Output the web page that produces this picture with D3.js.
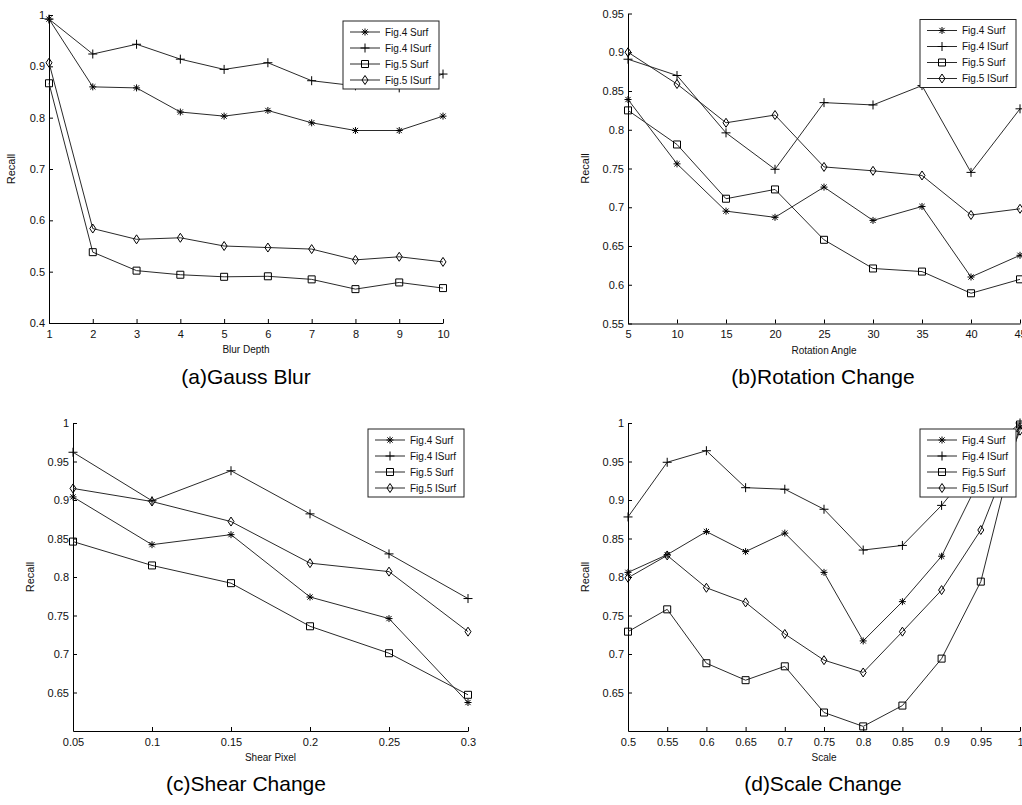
<!DOCTYPE html>
<html lang="en">
<head>
    <meta charset="UTF-8">
    <style>
        body {
            margin: 0;
            background: #fff;
            font-family: "Liberation Sans", Arial, sans-serif;
        }
        .series path.line {
            fill: none;
            stroke: #2a2a2a;
            stroke-width: 1;
        }
        .marker {
            fill: none;
            stroke: #000;
            stroke-width: 1;
        }
        .axis path, .axis line {
            stroke: #000;
        }
    </style>
    <script src="https://cdnjs.cloudflare.com/ajax/libs/d3/7.8.5/d3.min.js"></script>
</head>
<body>
<svg width="1022" height="805"></svg>

<script>
    var seriesNames = ["Fig.4 Surf", "Fig.4 ISurf", "Fig.5 Surf", "Fig.5 ISurf"];
    var markerTypes = ["asterisk", "plus", "square", "diamond"];

    // (a) Gauss blur
    var blurDepth = [1, 2, 3, 4, 5, 6, 7, 8, 9, 10];
    var blurFig4Surf = [0.992, 0.860, 0.858, 0.811, 0.803, 0.814, 0.790, 0.775, 0.775, 0.803];
    var blurFig4ISurf = [0.992, 0.924, 0.943, 0.914, 0.894, 0.907, 0.872, 0.862, 0.858, 0.885];
    var blurFig5Surf = [0.867, 0.538, 0.502, 0.494, 0.490, 0.491, 0.485, 0.466, 0.479, 0.468];
    var blurFig5ISurf = [0.907, 0.584, 0.563, 0.566, 0.550, 0.547, 0.544, 0.523, 0.529, 0.519];
    var blurYTicks = [0.4, 0.5, 0.6, 0.7, 0.8, 0.9, 1];

    // (b) rotation change
    var rotAngle = [5, 10, 15, 20, 25, 30, 35, 40, 45];
    var rotFig4Surf = [0.839, 0.756, 0.695, 0.687, 0.726, 0.683, 0.701, 0.610, 0.638];
    var rotFig4ISurf = [0.891, 0.870, 0.796, 0.749, 0.835, 0.832, 0.857, 0.745, 0.827];
    var rotFig5Surf = [0.825, 0.781, 0.711, 0.723, 0.658, 0.621, 0.617, 0.589, 0.607];
    var rotFig5ISurf = [0.900, 0.859, 0.809, 0.819, 0.752, 0.747, 0.741, 0.690, 0.698];
    var rotYTicks = [0.55, 0.6, 0.65, 0.7, 0.75, 0.8, 0.85, 0.9, 0.95];

    // (c) shear change
    var shearPixel = [0.05, 0.1, 0.15, 0.2, 0.25, 0.3];
    var shearFig4Surf = [0.904, 0.842, 0.855, 0.774, 0.746, 0.637];
    var shearFig4ISurf = [0.962, 0.899, 0.938, 0.882, 0.830, 0.772];
    var shearFig5Surf = [0.846, 0.815, 0.792, 0.736, 0.701, 0.647];
    var shearFig5ISurf = [0.915, 0.898, 0.872, 0.818, 0.807, 0.729];
    var shearYTicks = [0.65, 0.7, 0.75, 0.8, 0.85, 0.9, 0.95, 1];

    // (d) scale change
    var scaleValue = [0.5, 0.55, 0.6, 0.65, 0.7, 0.75, 0.8, 0.85, 0.9, 0.95, 1];
    var scaleFig4Surf = [0.806, 0.829, 0.859, 0.833, 0.857, 0.806, 0.717, 0.768, 0.827, 0.930, 0.995];
    var scaleFig4ISurf = [0.878, 0.949, 0.964, 0.916, 0.914, 0.888, 0.835, 0.841, 0.893, 0.955, 1.0];
    var scaleFig5Surf = [0.729, 0.758, 0.688, 0.666, 0.684, 0.624, 0.606, 0.633, 0.694, 0.794, 0.998];
    var scaleFig5ISurf = [0.799, 0.828, 0.786, 0.767, 0.726, 0.692, 0.676, 0.729, 0.783, 0.861, 0.990];
    var scaleYTicks = [0.65, 0.7, 0.75, 0.8, 0.85, 0.9, 0.95, 1];

    var panels = [
        {title: "(a)Gauss Blur", xLabel: "Blur Depth", x: blurDepth, xDomain: [1, 10], yDomain: [0.4, 1],
         yTicks: blurYTicks, series: [blurFig4Surf, blurFig4ISurf, blurFig5Surf, blurFig5ISurf],
         left: 49, right: 443, top: 15, bottom: 323, titleX: 246, titleY: 384, recallX: 15},
        {title: "(b)Rotation Change", xLabel: "Rotation Angle", x: rotAngle, xDomain: [5, 45], yDomain: [0.55, 0.95],
         yTicks: rotYTicks, series: [rotFig4Surf, rotFig4ISurf, rotFig5Surf, rotFig5ISurf],
         left: 628, right: 1020, top: 13.5, bottom: 323.5, titleX: 823, titleY: 384, recallX: 589},
        {title: "(c)Shear Change", xLabel: "Shear Pixel", x: shearPixel, xDomain: [0.05, 0.3], yDomain: [0.6, 1],
         yTicks: shearYTicks, series: [shearFig4Surf, shearFig4ISurf, shearFig5Surf, shearFig5ISurf],
         left: 73, right: 468, top: 423, bottom: 731, titleX: 246, titleY: 791, recallX: 34},
        {title: "(d)Scale Change", xLabel: "Scale", x: scaleValue, xDomain: [0.5, 1], yDomain: [0.6, 1],
         yTicks: scaleYTicks, series: [scaleFig4Surf, scaleFig4ISurf, scaleFig5Surf, scaleFig5ISurf],
         left: 628, right: 1020, top: 423, bottom: 731, titleX: 823, titleY: 791, recallX: 589}
    ];

    var svg = d3.select("svg");
    var fmt = function(d) { return String(+d.toFixed(2)); };

    panels.forEach(drawPanel);

    function markerPath(type) {
        if (type === "asterisk") {
            return "M0,-3.5V3.5M-3.5,0H3.5M-2.6,-2.6L2.6,2.6M-2.6,2.6L2.6,-2.6";
        }
        if (type === "plus") {
            return "M0,-4.5V4.5M-4.5,0H4.5";
        }
        if (type === "square") {
            return "M-3.5,-3.5H3.5V3.5H-3.5Z";
        }
        return "M0,-4.5L3,0L0,4.5L-3,0Z";
    }

    function drawPanel(p) {
        var x = d3.scaleLinear().domain(p.xDomain).range([p.left, p.right]);
        var y = d3.scaleLinear().domain(p.yDomain).range([p.bottom, p.top]);
        var g = svg.append("g");

        var xAxis = g.append("g").attr("class", "axis")
                .attr("transform", "translate(0," + p.bottom + ")")
                .call(d3.axisBottom(x).tickValues(p.x).tickFormat(fmt)
                        .tickSizeInner(-4).tickSizeOuter(0).tickPadding(7));
        var yAxis = g.append("g").attr("class", "axis")
                .attr("transform", "translate(" + p.left + ",0)")
                .call(d3.axisLeft(y).tickValues(p.yTicks).tickFormat(fmt)
                        .tickSizeInner(-4).tickSizeOuter(0).tickPadding(4));
        [xAxis, yAxis].forEach(function(a) {
            a.attr("font-family", "'Liberation Sans', Arial, sans-serif").attr("font-size", 11);
            a.selectAll("text").attr("fill", "#111");
        });

        g.append("text")
                .attr("x", (p.left + p.right) / 2).attr("y", p.bottom + 30)
                .attr("text-anchor", "middle").attr("font-size", 10).attr("fill", "#111")
                .text(p.xLabel);
        g.append("text")
                .attr("transform", "translate(" + p.recallX + "," + (p.top + p.bottom) / 2 + ") rotate(-90)")
                .attr("text-anchor", "middle").attr("font-size", 11).attr("fill", "#111")
                .text("Recall");
        g.append("text")
                .attr("x", p.titleX).attr("y", p.titleY)
                .attr("text-anchor", "middle").attr("font-size", 21).attr("fill", "#000")
                .text(p.title);

        var line = d3.line()
                .x(function(d, i) { return x(p.x[i]); })
                .y(function(d) { return y(d); });

        p.series.forEach(function(values, k) {
            var s = g.append("g").attr("class", "series");
            s.append("path").attr("class", "line").attr("d", line(values));
            s.selectAll("path.marker")
                    .data(values).enter()
                    .append("path").attr("class", "marker")
                    .attr("d", markerPath(markerTypes[k]))
                    .attr("transform", function(d, i) { return "translate(" + x(p.x[i]) + "," + y(d) + ")"; });
        });

        // legend box, top right inside the axes
        var lx = p.right - 100, ly = p.top + 6;
        var legend = g.append("g").attr("transform", "translate(" + lx + "," + ly + ")");
        legend.append("rect")
                .attr("width", 96).attr("height", 68)
                .attr("fill", "#fff").attr("stroke", "#222").attr("stroke-width", 1);
        var row = legend.selectAll("g.row")
                .data(seriesNames).enter()
                .append("g").attr("class", "row")
                .attr("transform", function(d, i) { return "translate(0," + (11 + i * 16) + ")"; });
        row.append("line")
                .attr("x1", 7).attr("x2", 37)
                .attr("stroke", "#2a2a2a");
        row.append("path").attr("class", "marker")
                .attr("transform", "translate(22,0)")
                .attr("d", function(d, i) { return markerPath(markerTypes[i]); });
        row.append("text")
                .attr("x", 42).attr("dy", "0.35em")
                .attr("font-size", 10).attr("fill", "#111")
                .text(function(d) { return d; });
    }
</script>
</body>
</html>
